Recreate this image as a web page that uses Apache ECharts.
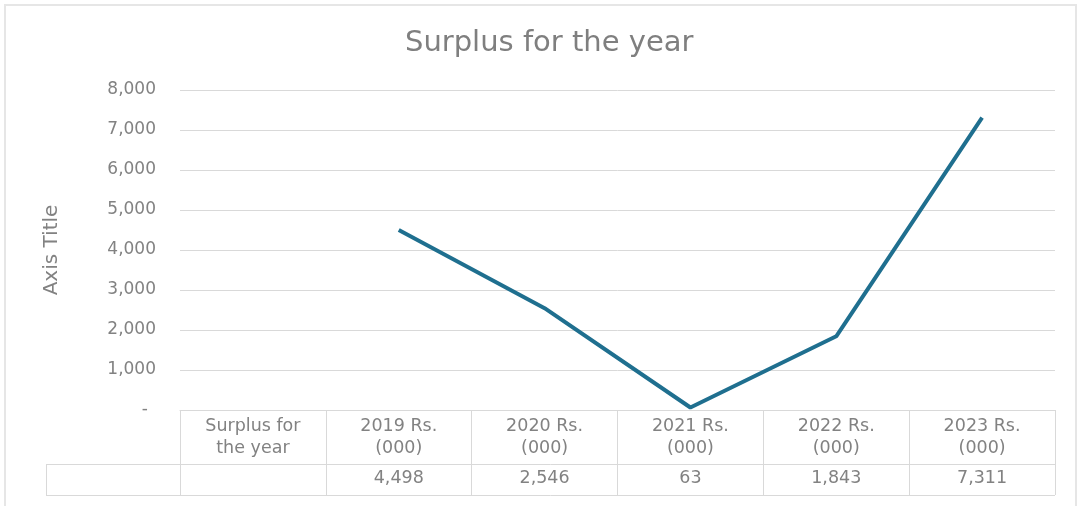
<!DOCTYPE html>
<html>
<head>
<meta charset="utf-8">
<script src="https://cdn.jsdelivr.net/npm/echarts@6/dist/echarts.min.js"></script>
<style>
html,body{margin:0;padding:0;background:#fff;}
#chart{width:1078px;height:506px;}
</style>
</head>
<body>
<div id="chart"></div>
<script>
const titleText = 'Surplus for the year';
const categories = ['Surplus for\nthe year', '2019 Rs.\n(000)', '2020 Rs.\n(000)', '2021 Rs.\n(000)', '2022 Rs.\n(000)', '2023 Rs.\n(000)'];
const surplus = [null, 4498, 2546, 63, 1843, 7311];
const yTicks = { min: 0, max: 8000, interval: 1000 };
const yAxisTitle = 'Axis Title';

const fmt = v => (v === null || v === undefined) ? '' : v.toLocaleString('en-US');
const textColor = '#828282';
const borderColor = '#d9d9d9';
const font = 'DejaVu Sans, Liberation Sans, sans-serif';

const gridLeft = 180, gridRight = 23, gridTop = 90, gridBottom = 96;
const W = 1078, H = 506;
const axisY = H - gridBottom;          // 410
const rowLine = axisY + 54;            // 464
const tableBottom = rowLine + 31;      // 495
const tableLeft = 46;

const chart = echarts.init(document.getElementById('chart'), null, { renderer: 'canvas' });
chart.setOption({
  backgroundColor: '#fff',
  animation: false,
  title: {
    text: titleText, left: 400, top: 24,
    textStyle: { color: '#7f7f7f', fontSize: 29, fontWeight: 'normal', fontFamily: font }
  },
  grid: { left: gridLeft, right: gridRight, top: gridTop, bottom: gridBottom, containLabel: false },
  xAxis: [{
    type: 'category', data: categories, boundaryGap: true, position: 'bottom',
    axisLine: { show: true, lineStyle: { color: borderColor, width: 1 } },
    axisTick: { show: true, length: tableBottom - axisY, inside: false, lineStyle: { color: borderColor } },
    axisLabel: { color: textColor, fontSize: 17.5, fontFamily: font, lineHeight: 22.5, margin: 5, interval: 0 },
    splitLine: { show: false }
  }, {
    type: 'category', data: categories, boundaryGap: true, position: 'bottom', offset: rowLine - axisY,
    axisLine: { show: false }, axisTick: { show: false },
    axisLabel: { color: textColor, fontSize: 17.5, fontFamily: font, margin: 5, interval: 0,
      formatter: (v, i) => fmt(surplus[i]) }
  }],
  yAxis: {
    type: 'value', min: yTicks.min, max: yTicks.max, interval: yTicks.interval,
    name: yAxisTitle, nameLocation: 'middle', nameGap: 118, nameRotate: 90,
    nameTextStyle: { color: textColor, fontSize: 20, fontFamily: font },
    axisLine: { show: false }, axisTick: { show: false },
    axisLabel: { color: textColor, fontSize: 17, fontFamily: font, margin: 24,
      formatter: v => v === 0 ? '{d|-}' : fmt(v),
      rich: { d: { color: textColor, fontSize: 17, fontFamily: font, padding: [0, 8, 0, 0] } } },
    splitLine: { show: true, lineStyle: { color: borderColor, width: 1 } }
  },
  series: [{
    type: 'line', data: surplus, xAxisIndex: 0, yAxisIndex: 0,
    showSymbol: false, symbol: 'none', connectNulls: false,
    lineStyle: { color: '#1f6f8f', width: 4 }, itemStyle: { color: '#1f6f8f' }
  }],
  graphic: [
    { type: 'rect', shape: { x: 5, y: 5, width: 1071, height: 520 }, style: { fill: 'none', stroke: '#e6e6e6', lineWidth: 2 }, silent: true },
    { type: 'line', shape: { x1: tableLeft, y1: rowLine + 0.5, x2: W - gridRight, y2: rowLine + 0.5 }, style: { stroke: borderColor, lineWidth: 1 } },
    { type: 'line', shape: { x1: tableLeft, y1: tableBottom + 0.5, x2: W - gridRight, y2: tableBottom + 0.5 }, style: { stroke: borderColor, lineWidth: 1 } },
    { type: 'line', shape: { x1: tableLeft + 0.5, y1: rowLine, x2: tableLeft + 0.5, y2: tableBottom }, style: { stroke: borderColor, lineWidth: 1 } }
  ]
});
</script>
</body>
</html>
